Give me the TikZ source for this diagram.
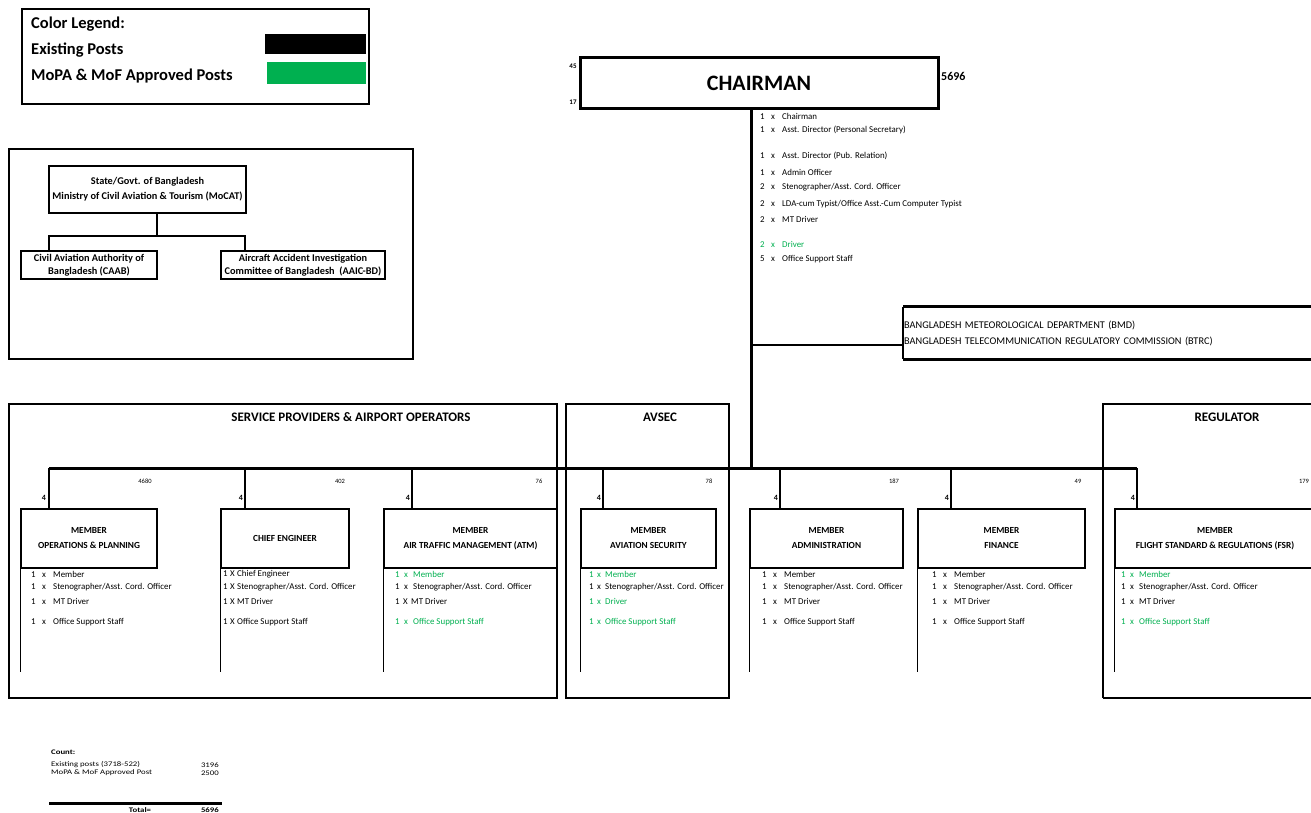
\documentclass[tikz,border=0pt]{standalone}
\usepackage{fontspec}
\setmainfont{Carlito}
\usetikzlibrary{positioning}
\definecolor{approved}{RGB}{0,176,80}
\newcommand{\postline}[4][11pt]{\makebox[#1][l]{#2}\makebox[#1][l]{#3}#4}

\begin{document}
\begin{tikzpicture}[x=1pt, y=-1pt,
    conn/.style={line width=1.3pt},
    thickline/.style={line width=3pt},
    box/.style={draw, line width=1.5pt, inner sep=0pt, align=center},
    head/.style={box, minimum height=59pt, font=\fontsize{9.3}{15}\selectfont\bfseries},
    item/.style={anchor=west, inner sep=0pt, font=\fontsize{8.9}{10}\selectfont},
    cnt/.style={inner sep=0pt, font=\fontsize{6.5}{8}\selectfont},
    four/.style={inner sep=0pt, font=\fontsize{8}{9}\selectfont\bfseries},
    title/.style={inner sep=0pt, font=\fontsize{13}{15}\selectfont\bfseries},
    legtext/.style={anchor=west, inner sep=0pt, font=\fontsize{16.5}{18}\selectfont\bfseries},
    sumtext/.style={inner sep=0pt, font=\fontsize{7}{7}\selectfont}]
    \clip (0,0) rectangle (1311,813);
    \fill[white] (0,0) rectangle (1311,813);

    % Colour legend
    \draw[line width=1.3pt] (22,9) rectangle (369,104);
    \node[legtext] (legtitle) at (31,24) {Color Legend:};
    \node[legtext] (legold) at (31,50) {Existing Posts};
    \node[legtext] (legnew) at (31,76) {MoPA \& MoF Approved Posts};
    \fill[black] (265,34) rectangle (366,54);
    \fill[approved] (267,62) rectangle (366,84);

    % Ministry
    \draw[conn] (9,149) rectangle (413,359);
    \node[box, minimum width=197pt, minimum height=47pt, font=\fontsize{10.3}{15}\selectfont\bfseries] (mocat) at (147.5,189.5)
        {State/Govt. of Bangladesh\\Ministry of Civil Aviation \& Tourism (MoCAT)};
    \node[box, minimum width=136pt, minimum height=28pt, font=\fontsize{10.3}{13}\selectfont\bfseries] (caab) at (89,265)
        {Civil Aviation Authority of\\Bangladesh (CAAB)};
    \node[box, minimum width=164pt, minimum height=28pt, font=\fontsize{10.3}{13}\selectfont\bfseries] (aaic) at (303,265)
        {Aircraft Accident Investigation\\Committee of Bangladesh~~(AAIC-BD)};
    \coordinate (jm) at (157,236);
    \coordinate (jl) at (49,236);
    \coordinate (jr) at (245,236);
    \draw[conn] (jm |- mocat.south) -- (jm);
    \draw[conn] (jl |- caab.north) -- (jl) -- (jr) -- (jr |- aaic.north);

    % Chairman
    \node[draw, line width=3pt, minimum width=358pt, minimum height=51pt, inner sep=0pt,
          font=\fontsize{22}{24}\selectfont\bfseries] (chair) at (759,83.5) {CHAIRMAN};
    \node[four, font=\fontsize{7}{8}\selectfont\bfseries] (chtop) at (573,66) {45};
    \node[four, font=\fontsize{7}{8}\selectfont\bfseries] (chbot) at (573,102) {17};
    \node[anchor=west, inner sep=0pt, font=\fontsize{12}{14}\selectfont\bfseries] (chtotal) at (941,76) {5696};

    \node[item] (c1) at (760,116) {\postline{1}{x}{Chairman}};
    \node[item] (c2) at (760,130) {\postline{1}{x}{Asst. Director (Personal Secretary)}};
    \node[item] (c3) at (760,156) {\postline{1}{x}{Asst. Director (Pub. Relation)}};
    \node[item] (c4) at (760,172) {\postline{1}{x}{Admin Officer}};
    \node[item] (c5) at (760,187) {\postline{2}{x}{Stenographer/Asst. Cord. Officer}};
    \node[item] (c6) at (760,204) {\postline{2}{x}{LDA-cum Typist/Office Asst.-Cum Computer Typist}};
    \node[item] (c7) at (760,219) {\postline{2}{x}{MT Driver}};
    \node[item, approved] (c8) at (760,244) {\postline{2}{x}{Driver}};
    \node[item] (c9) at (760,259) {\postline{5}{x}{Office Support Staff}};

    % Attached bodies
    \node[anchor=west, inner sep=1pt, text width=416pt, minimum height=52pt, align=left,
          font=\fontsize{10.3}{16}\selectfont] (bmd) at (903,333)
        {BANGLADESH METEOROLOGICAL DEPARTMENT (BMD)\\BANGLADESH TELECOMMUNICATION REGULATORY COMMISSION (BTRC)};
    \draw[thickline] (bmd.north west) -- (bmd.north east);
    \draw[thickline] (bmd.south west) -- (bmd.south east);
    \draw[line width=2pt] (bmd.north west) -- (bmd.south west);

    % Trunk and bus
    \coordinate (bus1) at (49,468);
    \coordinate (bus2) at (245,468);
    \coordinate (bus3) at (412,468);
    \coordinate (bus4) at (603,468);
    \coordinate (busc) at (751,468);
    \coordinate (bus5) at (780,468);
    \coordinate (bus6) at (951,468);
    \coordinate (bus7) at (1137,468);
    \coordinate (bj) at (751,345);
    \draw[thickline] (busc |- chair.south) -- (busc);
    \draw[line width=2.5pt] (bj) -- (bj -| bmd.west);

    % Groups
    \draw[conn] (9,404) rectangle (557,698);
    \draw[line width=2.5pt] (9,698) -- (557,698) -- (557,404);
    \draw[conn] (566,404) rectangle (729,698);
    \draw[line width=2.5pt] (566,698) -- (729,698) -- (729,404);
    \draw[conn] (1320,404) -- (1103,404) -- (1103,698);
    \draw[line width=2.5pt] (1103,698) -- (1320,698);
    \node[title] (sp) at (351,417) {SERVICE PROVIDERS \& AIRPORT OPERATORS};
    \node[title] (avsec) at (660,417) {AVSEC};
    \node[title] (reg) at (1227,417) {REGULATOR};

    \draw[thickline] (bus1) -- (bus7);

    % Members
    \node[head, minimum width=136pt] (m1) at (89,538.5) {MEMBER\\OPERATIONS \& PLANNING};
    \node[head, minimum width=128pt] (m2) at (285,538.5) {CHIEF ENGINEER};
    \node[head, minimum width=173pt] (m3) at (470.5,538.5) {MEMBER\\AIR TRAFFIC MANAGEMENT (ATM)};
    \node[head, minimum width=135pt] (m4) at (648.5,538.5) {MEMBER\\AVIATION SECURITY};
    \node[head, minimum width=153pt] (m5) at (826.5,538.5) {MEMBER\\ADMINISTRATION};
    \node[head, minimum width=167pt] (m6) at (1001.5,538.5) {MEMBER\\FINANCE};
    \node[head, minimum width=200pt] (m7) at (1215,538.5) {MEMBER\\FLIGHT STANDARD \& REGULATIONS (FSR)};

    \draw[conn] (bus1) -- (bus1 |- m1.north);
    \draw[conn] (bus2) -- (bus2 |- m2.north);
    \draw[conn] (bus3) -- (bus3 |- m3.north);
    \draw[conn] (bus4) -- (bus4 |- m4.north);
    \draw[conn] (bus5) -- (bus5 |- m5.north);
    \draw[conn] (bus6) -- (bus6 |- m6.north);
    \draw[conn] (bus7) -- (bus7 |- m7.north);

    \draw[conn] (m1.north west) -- (m1.west |- 0,672);
    \draw[conn] (m2.north west) -- (m2.west |- 0,672);
    \draw[conn] (m3.north west) -- (m3.west |- 0,672);
    \draw[conn] (m4.north west) -- (m4.west |- 0,672);
    \draw[conn] (m5.north west) -- (m5.west |- 0,672);
    \draw[conn] (m6.north west) -- (m6.west |- 0,672);
    \draw[conn] (m7.north west) -- (m7.west |- 0,672);

    % Post counts
    \node[cnt] (n1) at (145,481) {4680};
    \node[cnt] (n2) at (340,481) {402};
    \node[cnt] (n3) at (539,481) {76};
    \node[cnt] (n4) at (709,481) {78};
    \node[cnt] (n5) at (894,481) {187};
    \node[cnt] (n6) at (1078,481) {49};
    \node[cnt] (n7) at (1304,481) {179};
    \node[four] (f1) at (44,498) {4};
    \node[four] (f2) at (241,498) {4};
    \node[four] (f3) at (408,498) {4};
    \node[four] (f4) at (599,498) {4};
    \node[four] (f5) at (776,498) {4};
    \node[four] (f6) at (947,498) {4};
    \node[four] (f7) at (1133,498) {4};

    % Posts under each member
    \node[item] (p1a) at (31,574) {\postline{1}{x}{Member}};
    \node[item] (p1b) at (31,587) {\postline{1}{x}{Stenographer/Asst. Cord. Officer}};
    \node[item] (p1c) at (31,601) {\postline{1}{x}{MT Driver}};
    \node[item] (p1d) at (31,622) {\postline{1}{x}{Office Support Staff}};

    \node[item] (p2a) at (223,574) {\postline[7pt]{1}{X}{Chief Engineer}};
    \node[item] (p2b) at (223,587) {\postline[7pt]{1}{X}{Stenographer/Asst. Cord. Officer}};
    \node[item] (p2c) at (223,601) {\postline[7pt]{1}{X}{MT Driver}};
    \node[item] (p2d) at (223,622) {\postline[7pt]{1}{X}{Office Support Staff}};

    \node[item, approved] (p3a) at (395,574) {\postline[9pt]{1}{x}{Member}};
    \node[item] (p3b) at (395,587) {\postline[9pt]{1}{x}{Stenographer/Asst. Cord. Officer}};
    \node[item] (p3c) at (395,601) {\postline[8pt]{1}{X}{MT Driver}};
    \node[item, approved] (p3d) at (395,622) {\postline[9pt]{1}{x}{Office Support Staff}};

    \node[item, approved] (p4a) at (589,574) {\postline[8pt]{1}{x}{Member}};
    \node[item] (p4b) at (589,587) {\postline[8pt]{1}{x}{Stenographer/Asst. Cord. Officer}};
    \node[item, approved] (p4c) at (589,601) {\postline[8pt]{1}{x}{Driver}};
    \node[item, approved] (p4d) at (589,622) {\postline[8pt]{1}{x}{Office Support Staff}};

    \node[item] (p5a) at (762,574) {\postline{1}{x}{Member}};
    \node[item] (p5b) at (762,587) {\postline{1}{x}{Stenographer/Asst. Cord. Officer}};
    \node[item] (p5c) at (762,601) {\postline{1}{x}{MT Driver}};
    \node[item] (p5d) at (762,622) {\postline{1}{x}{Office Support Staff}};

    \node[item] (p6a) at (932,574) {\postline{1}{x}{Member}};
    \node[item] (p6b) at (932,587) {\postline{1}{x}{Stenographer/Asst. Cord. Officer}};
    \node[item] (p6c) at (932,601) {\postline{1}{x}{MT Driver}};
    \node[item] (p6d) at (932,622) {\postline{1}{x}{Office Support Staff}};

    \node[item, approved] (p7a) at (1121,574) {\postline[9pt]{1}{x}{Member}};
    \node[item] (p7b) at (1121,587) {\postline[9pt]{1}{x}{Stenographer/Asst. Cord. Officer}};
    \node[item] (p7c) at (1121,601) {\postline[9pt]{1}{x}{MT Driver}};
    \node[item, approved] (p7d) at (1121,622) {\postline[9pt]{1}{x}{Office Support Staff}};

    % Count
    \node[sumtext, anchor=west, font=\fontsize{7}{7}\selectfont\bfseries] (cnthead) at (51,752) {\scalebox{1.25}[1]{Count:}};
    \node[sumtext, anchor=west] (cntold) at (51,765) {\scalebox{1.25}[1]{Existing posts (3718-522)}};
    \node[sumtext, anchor=east] (valold) at (219,765) {\scalebox{1.25}[1]{3196}};
    \node[sumtext, anchor=west] (cntnew) at (51,773) {\scalebox{1.25}[1]{MoPA \& MoF Approved Post}};
    \node[sumtext, anchor=east] (valnew) at (219,773) {\scalebox{1.25}[1]{2500}};
    \draw[thickline] (49,803) -- (222,803);
    \node[sumtext, font=\fontsize{7}{7}\selectfont\bfseries] (cnttot) at (140,810) {\scalebox{1.25}[1]{Total=}};
    \node[sumtext, anchor=east, font=\fontsize{7}{7}\selectfont\bfseries] (valtot) at (219,810) {\scalebox{1.25}[1]{5696}};
\end{tikzpicture}
\end{document}
